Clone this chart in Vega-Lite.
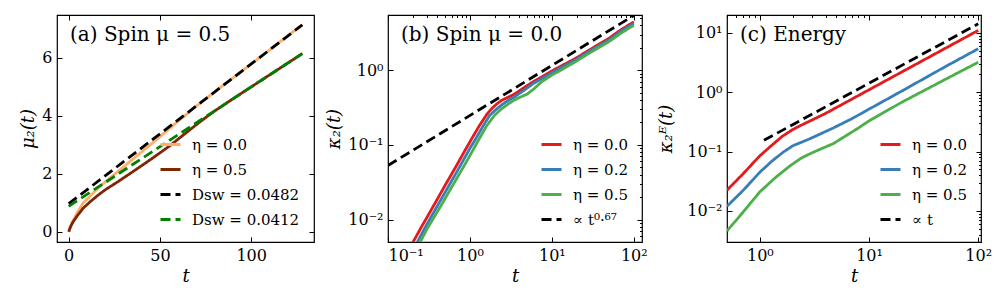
{
  "$schema": "https://vega.github.io/schema/vega-lite/v6.json",
  "background": "white",
  "padding": {"left": 19, "top": 13, "right": 4, "bottom": 4},
  "spacing": 9,
  "resolve": {"scale": {"color": "independent", "strokeDash": "independent"}, "legend": {"color": "independent", "strokeDash": "independent"}},
  "config": {
    "view": {"stroke": "black", "strokeWidth": 1.2},
    "font": "DejaVu Serif",
    "axis": {
      "domain": false, "grid": false, "tickColor": "black", "tickSize": -5, "tickWidth": 1,
      "labelFont": "DejaVu Serif", "labelFontSize": 16, "labelColor": "black",
      "titleFont": "DejaVu Serif", "titleFontSize": 18, "titleFontWeight": "normal", "titleColor": "black",
      "titleFontStyle": "italic", "labelPadding": 10
    },
    "legend": {
      "orient": "bottom-right", "offset": 14, "symbolType": "stroke", "symbolSize": 400,
      "symbolStrokeWidth": 3, "labelFont": "DejaVu Serif", "labelFontSize": 15, "labelColor": "black",
      "rowPadding": 5, "padding": 0, "labelOffset": 10, "title": null
    },
    "title": {"font": "DejaVu Serif", "fontSize": 20, "fontWeight": "normal", "color": "black", "anchor": "start", "frame": "group", "baseline": "alphabetic", "offset": -30, "dx": 13}
  },
  "datasets": {
    "a": [
      {"s": "η = 0.0", "t": 0, "y": 0}, {"s": "η = 0.0", "t": 1, "y": 0.2}, {"s": "η = 0.0", "t": 2, "y": 0.34},
      {"s": "η = 0.0", "t": 3, "y": 0.46}, {"s": "η = 0.0", "t": 5, "y": 0.7}, {"s": "η = 0.0", "t": 8, "y": 1.0},
      {"s": "η = 0.0", "t": 12, "y": 1.25}, {"s": "η = 0.0", "t": 16, "y": 1.5}, {"s": "η = 0.0", "t": 20, "y": 1.72},
      {"s": "η = 0.0", "t": 25, "y": 1.98}, {"s": "η = 0.0", "t": 30, "y": 2.24}, {"s": "η = 0.0", "t": 40, "y": 2.76},
      {"s": "η = 0.0", "t": 50, "y": 3.28}, {"s": "η = 0.0", "t": 60, "y": 3.82}, {"s": "η = 0.0", "t": 70, "y": 4.34},
      {"s": "η = 0.0", "t": 80, "y": 4.83}, {"s": "η = 0.0", "t": 90, "y": 5.31}, {"s": "η = 0.0", "t": 100, "y": 5.79},
      {"s": "η = 0.0", "t": 110, "y": 6.27}, {"s": "η = 0.0", "t": 120, "y": 6.76}, {"s": "η = 0.0", "t": 128, "y": 7.14},
      {"s": "η = 0.5", "t": 0, "y": 0}, {"s": "η = 0.5", "t": 1, "y": 0.17}, {"s": "η = 0.5", "t": 2, "y": 0.3},
      {"s": "η = 0.5", "t": 3, "y": 0.4}, {"s": "η = 0.5", "t": 5, "y": 0.58}, {"s": "η = 0.5", "t": 8, "y": 0.82},
      {"s": "η = 0.5", "t": 12, "y": 1.05}, {"s": "η = 0.5", "t": 16, "y": 1.26}, {"s": "η = 0.5", "t": 20, "y": 1.45},
      {"s": "η = 0.5", "t": 27, "y": 1.73}, {"s": "η = 0.5", "t": 35, "y": 2.07}, {"s": "η = 0.5", "t": 45, "y": 2.5},
      {"s": "η = 0.5", "t": 55, "y": 2.95}, {"s": "η = 0.5", "t": 60, "y": 3.2}, {"s": "η = 0.5", "t": 65, "y": 3.45},
      {"s": "η = 0.5", "t": 70, "y": 3.7}, {"s": "η = 0.5", "t": 75, "y": 3.94}, {"s": "η = 0.5", "t": 80, "y": 4.17},
      {"s": "η = 0.5", "t": 90, "y": 4.59}, {"s": "η = 0.5", "t": 100, "y": 5.0},
      {"s": "η = 0.5", "t": 110, "y": 5.41}, {"s": "η = 0.5", "t": 120, "y": 5.82}, {"s": "η = 0.5", "t": 128, "y": 6.15},
      {"s": "Dsw = 0.0482", "t": 0, "y": 0.97}, {"s": "Dsw = 0.0482", "t": 128, "y": 7.14},
      {"s": "Dsw = 0.0412", "t": 0, "y": 0.88}, {"s": "Dsw = 0.0412", "t": 128, "y": 6.15}
    ],
    "b": [
      {"s": "η = 0.0", "t": 0.19, "y": 0.0044}, {"s": "η = 0.0", "t": 0.25, "y": 0.0076}, {"s": "η = 0.0", "t": 0.35, "y": 0.0145},
      {"s": "η = 0.0", "t": 0.5, "y": 0.029}, {"s": "η = 0.0", "t": 0.7, "y": 0.055}, {"s": "η = 0.0", "t": 0.9, "y": 0.09},
      {"s": "η = 0.0", "t": 1.05, "y": 0.121}, {"s": "η = 0.0", "t": 1.3, "y": 0.18}, {"s": "η = 0.0", "t": 1.6, "y": 0.255},
      {"s": "η = 0.0", "t": 1.84, "y": 0.305}, {"s": "η = 0.0", "t": 2.1, "y": 0.35}, {"s": "η = 0.0", "t": 2.44, "y": 0.396},
      {"s": "η = 0.0", "t": 3, "y": 0.44}, {"s": "η = 0.0", "t": 3.5, "y": 0.48}, {"s": "η = 0.0", "t": 4.7, "y": 0.597},
      {"s": "η = 0.0", "t": 6, "y": 0.71}, {"s": "η = 0.0", "t": 7.5, "y": 0.81}, {"s": "η = 0.0", "t": 10, "y": 0.98},
      {"s": "η = 0.0", "t": 19.2, "y": 1.43}, {"s": "η = 0.0", "t": 30, "y": 1.93}, {"s": "η = 0.0", "t": 49.3, "y": 2.66},
      {"s": "η = 0.0", "t": 70, "y": 3.5}, {"s": "η = 0.0", "t": 100, "y": 4.45},
      {"s": "η = 0.2", "t": 0.21, "y": 0.0042}, {"s": "η = 0.2", "t": 0.28, "y": 0.0076}, {"s": "η = 0.2", "t": 0.39, "y": 0.0145},
      {"s": "η = 0.2", "t": 0.56, "y": 0.029}, {"s": "η = 0.2", "t": 0.78, "y": 0.055}, {"s": "η = 0.2", "t": 1.0, "y": 0.09},
      {"s": "η = 0.2", "t": 1.18, "y": 0.121}, {"s": "η = 0.2", "t": 1.45, "y": 0.18}, {"s": "η = 0.2", "t": 1.75, "y": 0.25},
      {"s": "η = 0.2", "t": 2.1, "y": 0.3}, {"s": "η = 0.2", "t": 2.5, "y": 0.35}, {"s": "η = 0.2", "t": 3, "y": 0.4},
      {"s": "η = 0.2", "t": 3.5, "y": 0.44}, {"s": "η = 0.2", "t": 4.7, "y": 0.55}, {"s": "η = 0.2", "t": 6, "y": 0.67},
      {"s": "η = 0.2", "t": 7.5, "y": 0.77}, {"s": "η = 0.2", "t": 10, "y": 0.93}, {"s": "η = 0.2", "t": 19.2, "y": 1.37},
      {"s": "η = 0.2", "t": 30, "y": 1.85}, {"s": "η = 0.2", "t": 49.3, "y": 2.53}, {"s": "η = 0.2", "t": 70, "y": 3.35},
      {"s": "η = 0.2", "t": 100, "y": 4.25},
      {"s": "η = 0.5", "t": 0.23, "y": 0.0043}, {"s": "η = 0.5", "t": 0.3, "y": 0.0075}, {"s": "η = 0.5", "t": 0.43, "y": 0.0145},
      {"s": "η = 0.5", "t": 0.62, "y": 0.029}, {"s": "η = 0.5", "t": 0.87, "y": 0.055}, {"s": "η = 0.5", "t": 1.12, "y": 0.09},
      {"s": "η = 0.5", "t": 1.3, "y": 0.121}, {"s": "η = 0.5", "t": 1.6, "y": 0.18}, {"s": "η = 0.5", "t": 2.0, "y": 0.25},
      {"s": "η = 0.5", "t": 2.4, "y": 0.3}, {"s": "η = 0.5", "t": 3, "y": 0.36}, {"s": "η = 0.5", "t": 3.5, "y": 0.4},
      {"s": "η = 0.5", "t": 4, "y": 0.43}, {"s": "η = 0.5", "t": 5, "y": 0.48}, {"s": "η = 0.5", "t": 6, "y": 0.56},
      {"s": "η = 0.5", "t": 7.5, "y": 0.7}, {"s": "η = 0.5", "t": 10, "y": 0.86}, {"s": "η = 0.5", "t": 19.2, "y": 1.29},
      {"s": "η = 0.5", "t": 30, "y": 1.75}, {"s": "η = 0.5", "t": 49.3, "y": 2.4}, {"s": "η = 0.5", "t": 70, "y": 3.15},
      {"s": "η = 0.5", "t": 100, "y": 4.0},
      {"s": "∝ t⁰·⁶⁷", "t": 0.1, "y": 0.053}, {"s": "∝ t⁰·⁶⁷", "t": 100, "y": 5.42}
    ],
    "c": [
      {"s": "η = 0.0", "t": 0.5, "y": 0.0224}, {"s": "η = 0.0", "t": 0.7, "y": 0.042}, {"s": "η = 0.0", "t": 1.0, "y": 0.085},
      {"s": "η = 0.0", "t": 1.3, "y": 0.13}, {"s": "η = 0.0", "t": 1.6, "y": 0.18}, {"s": "η = 0.0", "t": 2.0, "y": 0.235},
      {"s": "η = 0.0", "t": 2.5, "y": 0.29}, {"s": "η = 0.0", "t": 3, "y": 0.34}, {"s": "η = 0.0", "t": 4, "y": 0.44},
      {"s": "η = 0.0", "t": 5, "y": 0.55}, {"s": "η = 0.0", "t": 7, "y": 0.77}, {"s": "η = 0.0", "t": 10, "y": 1.1},
      {"s": "η = 0.0", "t": 20, "y": 2.2}, {"s": "η = 0.0", "t": 50, "y": 5.5}, {"s": "η = 0.0", "t": 100, "y": 11},
      {"s": "η = 0.2", "t": 0.5, "y": 0.012}, {"s": "η = 0.2", "t": 0.7, "y": 0.022}, {"s": "η = 0.2", "t": 1.0, "y": 0.045},
      {"s": "η = 0.2", "t": 1.3, "y": 0.07}, {"s": "η = 0.2", "t": 1.65, "y": 0.099}, {"s": "η = 0.2", "t": 2.0, "y": 0.125},
      {"s": "η = 0.2", "t": 2.88, "y": 0.165}, {"s": "η = 0.2", "t": 4.7, "y": 0.25}, {"s": "η = 0.2", "t": 7, "y": 0.36},
      {"s": "η = 0.2", "t": 9.45, "y": 0.49}, {"s": "η = 0.2", "t": 20, "y": 1.05}, {"s": "η = 0.2", "t": 50, "y": 2.7},
      {"s": "η = 0.2", "t": 100, "y": 5.4},
      {"s": "η = 0.5", "t": 0.5, "y": 0.0046}, {"s": "η = 0.5", "t": 0.7, "y": 0.0095}, {"s": "η = 0.5", "t": 1.0, "y": 0.021},
      {"s": "η = 0.5", "t": 1.4, "y": 0.037}, {"s": "η = 0.5", "t": 1.9, "y": 0.058}, {"s": "η = 0.5", "t": 2.4, "y": 0.078},
      {"s": "η = 0.5", "t": 2.88, "y": 0.092}, {"s": "η = 0.5", "t": 3.5, "y": 0.108}, {"s": "η = 0.5", "t": 4.7, "y": 0.136},
      {"s": "η = 0.5", "t": 6, "y": 0.18}, {"s": "η = 0.5", "t": 8, "y": 0.25}, {"s": "η = 0.5", "t": 10, "y": 0.33},
      {"s": "η = 0.5", "t": 20, "y": 0.68}, {"s": "η = 0.5", "t": 50, "y": 1.65}, {"s": "η = 0.5", "t": 100, "y": 3.2},
      {"s": "∝ t", "t": 1.09, "y": 0.155}, {"s": "∝ t", "t": 100, "y": 14.2}
    ]
  },
  "hconcat": [
    {
      "width": 257, "height": 227,
      "data": {"name": "a"},
      "title": {"text": "(a) Spin μ = 0.5"},
      "encoding": {
        "x": {"field": "t", "type": "quantitative", "scale": {"domain": [-6.4, 134.4], "nice": false, "zero": false}},
        "y": {"field": "y", "type": "quantitative", "scale": {"domain": [-0.35, 7.48], "nice": false, "zero": false}},
        "color": {"field": "s", "type": "nominal", "legend": {"orient": "bottom-right"}, "scale": {"domain": ["η = 0.0", "η = 0.5", "Dsw = 0.0482", "Dsw = 0.0412"], "range": ["#fdae6b", "#7f2704", "#000000", "#008000"]}},
        "strokeDash": {"field": "s", "type": "nominal", "legend": {"orient": "bottom-right"}, "scale": {"domain": ["η = 0.0", "η = 0.5", "Dsw = 0.0482", "Dsw = 0.0412"], "range": [[1, 0], [1, 0], [10, 5], [10, 5]]}}
      },
      "layer": [
        {"mark": {"type": "line", "strokeWidth": 2.8}, "transform": [{"filter": {"field": "s", "oneOf": ["η = 0.0", "η = 0.5"]}}],
         "encoding": {"x": {"field": "t", "type": "quantitative", "axis": {"values": [0, 50, 100], "title": "t"}},
                      "y": {"field": "y", "type": "quantitative", "axis": {"values": [0, 2, 4, 6], "title": "μ₂(t)"}}}},
        {"mark": {"type": "line", "strokeWidth": 2.8}, "transform": [{"filter": {"field": "s", "oneOf": ["Dsw = 0.0482", "Dsw = 0.0412"]}}],
         "encoding": {"x": {"field": "t", "type": "quantitative", "axis": null}, "y": {"field": "y", "type": "quantitative", "axis": null}}},
        {"mark": {"type": "line", "opacity": 0},
         "encoding": {"color": {"value": "black"}, "strokeDash": {"value": [1, 0]},
                      "x": {"field": "t", "type": "quantitative", "axis": {"orient": "top", "values": [0, 50, 100], "labels": false, "title": null}},
                      "y": {"field": "y", "type": "quantitative", "axis": {"orient": "right", "values": [0, 2, 4, 6], "labels": false, "title": null}}}}
      ],
      "resolve": {"axis": {"x": "independent", "y": "independent"}}
    },
    {
      "width": 254, "height": 227,
      "data": {"name": "b"},
      "title": {"text": "(b) Spin μ = 0.0"},
      "encoding": {
        "x": {"field": "t", "type": "quantitative", "scale": {"type": "log", "domain": [0.1, 125.9], "nice": false}},
        "y": {"field": "y", "type": "quantitative", "scale": {"type": "log", "domain": [0.005, 5.5], "nice": false}},
        "color": {"field": "s", "type": "nominal", "legend": {"orient": "bottom-right"}, "scale": {"domain": ["η = 0.0", "η = 0.2", "η = 0.5", "∝ t⁰·⁶⁷"], "range": ["#e41a1c", "#377eb8", "#4daf4a", "#000000"]}},
        "strokeDash": {"field": "s", "type": "nominal", "legend": {"orient": "bottom-right"}, "scale": {"domain": ["η = 0.0", "η = 0.2", "η = 0.5", "∝ t⁰·⁶⁷"], "range": [[1, 0], [1, 0], [1, 0], [10, 5]]}}
      },
      "layer": [
        {"mark": {"type": "line", "strokeWidth": 2.8, "clip": true},
         "encoding": {"x": {"field": "t", "type": "quantitative", "axis": {"values": [0.1, 1, 10, 100], "title": "t", "labelExpr": "datum.value < 0.5 ? '10⁻¹' : datum.value < 5 ? '10⁰' : datum.value < 50 ? '10¹' : '10²'"}},
                      "y": {"field": "y", "type": "quantitative", "axis": {"values": [0.01, 0.1, 1], "title": "κ₂(t)", "labelExpr": "datum.value < 0.05 ? '10⁻²' : datum.value < 0.5 ? '10⁻¹' : '10⁰'"}}}},
        {"mark": {"type": "line", "opacity": 0},
         "encoding": {"color": {"value": "black"}, "strokeDash": {"value": [1, 0]},
                      "x": {"field": "t", "type": "quantitative", "axis": {"values": [0.2, 0.3, 0.4, 0.5, 0.6, 0.7, 0.8, 0.9, 2, 3, 4, 5, 6, 7, 8, 9, 20, 30, 40, 50, 60, 70, 80, 90], "labels": false, "title": null, "tickSize": -2.5}},
                      "y": {"field": "y", "type": "quantitative", "axis": {"values": [0.006, 0.007, 0.008, 0.009, 0.02, 0.03, 0.04, 0.05, 0.06, 0.07, 0.08, 0.09, 0.2, 0.3, 0.4, 0.5, 0.6, 0.7, 0.8, 0.9, 2, 3, 4, 5], "labels": false, "title": null, "tickSize": -2.5}}}},
        {"mark": {"type": "line", "opacity": 0},
         "encoding": {"color": {"value": "black"}, "strokeDash": {"value": [1, 0]},
                      "x": {"field": "t", "type": "quantitative", "axis": {"orient": "top", "values": [0.1, 1, 10, 100], "labels": false, "title": null}},
                      "y": {"field": "y", "type": "quantitative", "axis": {"orient": "right", "values": [0.01, 0.1, 1], "labels": false, "title": null}}}},
        {"mark": {"type": "line", "opacity": 0},
         "encoding": {"color": {"value": "black"}, "strokeDash": {"value": [1, 0]},
                      "x": {"field": "t", "type": "quantitative", "axis": {"orient": "top", "values": [0.2, 0.3, 0.4, 0.5, 0.6, 0.7, 0.8, 0.9, 2, 3, 4, 5, 6, 7, 8, 9, 20, 30, 40, 50, 60, 70, 80, 90], "labels": false, "title": null, "tickSize": -2.5}},
                      "y": {"field": "y", "type": "quantitative", "axis": {"orient": "right", "values": [0.006, 0.007, 0.008, 0.009, 0.02, 0.03, 0.04, 0.05, 0.06, 0.07, 0.08, 0.09, 0.2, 0.3, 0.4, 0.5, 0.6, 0.7, 0.8, 0.9, 2, 3, 4, 5], "labels": false, "title": null, "tickSize": -2.5}}}}
      ],
      "resolve": {"axis": {"x": "independent", "y": "independent"}}
    },
    {
      "width": 254, "height": 227,
      "data": {"name": "c"},
      "title": {"text": "(c) Energy"},
      "encoding": {
        "x": {"field": "t", "type": "quantitative", "scale": {"type": "log", "domain": [0.5, 106], "nice": false}},
        "y": {"field": "y", "type": "quantitative", "scale": {"type": "log", "domain": [0.003, 20], "nice": false}},
        "color": {"field": "s", "type": "nominal", "legend": {"orient": "bottom-right"}, "scale": {"domain": ["η = 0.0", "η = 0.2", "η = 0.5", "∝ t"], "range": ["#e41a1c", "#377eb8", "#4daf4a", "#000000"]}},
        "strokeDash": {"field": "s", "type": "nominal", "legend": {"orient": "bottom-right"}, "scale": {"domain": ["η = 0.0", "η = 0.2", "η = 0.5", "∝ t"], "range": [[1, 0], [1, 0], [1, 0], [10, 5]]}}
      },
      "layer": [
        {"mark": {"type": "line", "strokeWidth": 2.8, "clip": true},
         "encoding": {"x": {"field": "t", "type": "quantitative", "axis": {"values": [1, 10, 100], "title": "t", "labelExpr": "datum.value < 5 ? '10⁰' : datum.value < 50 ? '10¹' : '10²'"}},
                      "y": {"field": "y", "type": "quantitative", "axis": {"values": [0.01, 0.1, 1, 10], "title": "κ₂ᴱ(t)", "titlePadding": 11, "labelExpr": "datum.value < 0.05 ? '10⁻²' : datum.value < 0.5 ? '10⁻¹' : datum.value < 5 ? '10⁰' : '10¹'"}}}},
        {"mark": {"type": "line", "opacity": 0},
         "encoding": {"color": {"value": "black"}, "strokeDash": {"value": [1, 0]},
                      "x": {"field": "t", "type": "quantitative", "axis": {"values": [0.5, 0.6, 0.7, 0.8, 0.9, 2, 3, 4, 5, 6, 7, 8, 9, 20, 30, 40, 50, 60, 70, 80, 90], "labels": false, "title": null, "tickSize": -2.5}},
                      "y": {"field": "y", "type": "quantitative", "axis": {"values": [0.003, 0.004, 0.005, 0.006, 0.007, 0.008, 0.009, 0.02, 0.03, 0.04, 0.05, 0.06, 0.07, 0.08, 0.09, 0.2, 0.3, 0.4, 0.5, 0.6, 0.7, 0.8, 0.9, 2, 3, 4, 5, 6, 7, 8, 9, 20], "labels": false, "title": null, "tickSize": -2.5}}}},
        {"mark": {"type": "line", "opacity": 0},
         "encoding": {"color": {"value": "black"}, "strokeDash": {"value": [1, 0]},
                      "x": {"field": "t", "type": "quantitative", "axis": {"orient": "top", "values": [1, 10, 100], "labels": false, "title": null}},
                      "y": {"field": "y", "type": "quantitative", "axis": {"orient": "right", "values": [0.01, 0.1, 1, 10], "labels": false, "title": null}}}},
        {"mark": {"type": "line", "opacity": 0},
         "encoding": {"color": {"value": "black"}, "strokeDash": {"value": [1, 0]},
                      "x": {"field": "t", "type": "quantitative", "axis": {"orient": "top", "values": [0.5, 0.6, 0.7, 0.8, 0.9, 2, 3, 4, 5, 6, 7, 8, 9, 20, 30, 40, 50, 60, 70, 80, 90], "labels": false, "title": null, "tickSize": -2.5}},
                      "y": {"field": "y", "type": "quantitative", "axis": {"orient": "right", "values": [0.003, 0.004, 0.005, 0.006, 0.007, 0.008, 0.009, 0.02, 0.03, 0.04, 0.05, 0.06, 0.07, 0.08, 0.09, 0.2, 0.3, 0.4, 0.5, 0.6, 0.7, 0.8, 0.9, 2, 3, 4, 5, 6, 7, 8, 9, 20], "labels": false, "title": null, "tickSize": -2.5}}}}
      ],
      "resolve": {"axis": {"x": "independent", "y": "independent"}}
    }
  ]
}
